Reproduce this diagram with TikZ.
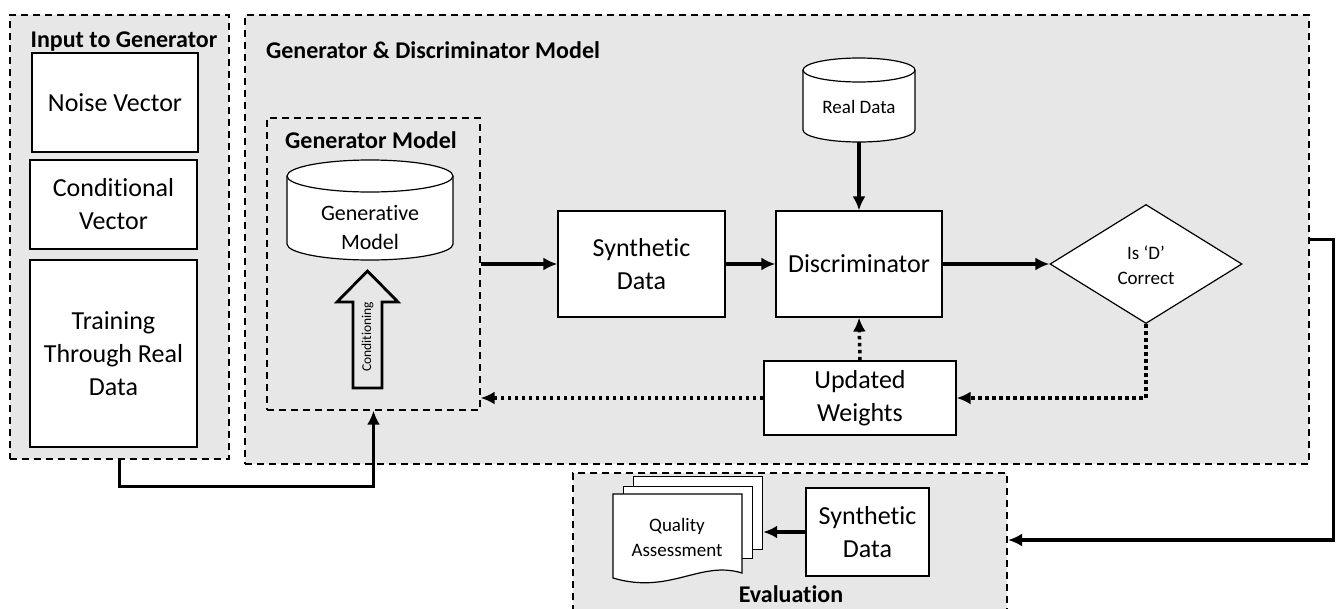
\documentclass[tikz,border=0pt]{standalone}
\usepackage{fontspec}
\setmainfont[Ligatures={NoCommon}]{Carlito}
\usetikzlibrary{shapes.geometric,arrows.meta}
\definecolor{panel}{RGB}{231,231,231}
\begin{document}
\begin{tikzpicture}[x=1pt,y=1pt,
  panelbox/.style={draw, dash pattern=on 7pt off 5pt, line width=1.3pt, fill=panel, inner sep=0pt},
  titletext/.style={font=\fontsize{24}{29}\selectfont\bfseries, anchor=base, inner sep=0pt},
  whitebox/.style={draw, fill=white, line width=1.2pt, align=center, inner sep=0pt, font=\fontsize{26}{33}\selectfont},
  smalltext/.style={align=center, inner sep=0pt, font=\fontsize{19}{25}\selectfont},
  flow/.style={line width=3.2pt, -{Latex[length=14pt,width=13pt]}},
  dotflow/.style={line width=3.5pt, dash pattern=on 3.5pt off 3.5pt, -{Latex[length=14pt,width=13pt]}},
  shapeline/.style={line width=1.2pt}
]
\clip (0,0) rectangle (1337,-608);
\fill[white] (0,0) rectangle (1337,-608);

% panels
\node[panelbox, minimum width=219pt, minimum height=444pt] (inp) at (119.5,-237) {};
\node[panelbox, minimum width=1064pt, minimum height=449pt] (gd) at (777,-239.5) {};
\node[panelbox, minimum width=213pt, minimum height=292pt] (gm) at (373.5,-264) {};
\node[panelbox, minimum width=434pt, minimum height=140pt] (ev) at (790,-543) {};

% titles
\node[titletext] (tinp) at (124,-47) {Input to Generator};
\node[titletext] (tgd) at (433,-58) {Generator \& Discriminator Model};
\node[titletext] (tgm) at (371,-148) {Generator Model};
\node[titletext] (tev) at (791,-602) {Evaluation};

% input boxes
\node[whitebox, minimum width=166pt, minimum height=99pt] (noise) at (115,-102.5) {Noise Vector};
\node[whitebox, minimum width=167pt, minimum height=89pt] (cond) at (113.5,-204.5) {Conditional\\Vector};
\node[whitebox, minimum width=167pt, minimum height=187pt] (train) at (113.5,-353.5) {Training\\Through Real\\Data};

% generative model cylinder
\node[minimum width=166pt, minimum height=100pt, inner sep=0pt] (genc) at (370,-210) {};
\draw[shapeline, fill=white] (287,-176) -- (287,-244) arc[start angle=180,end angle=360,x radius=83,y radius=16]
  -- (453,-176) arc[start angle=0,end angle=180,x radius=83,y radius=16] -- cycle;
\draw[shapeline] (287,-176) arc[start angle=180,end angle=360,x radius=83,y radius=16];
\node[align=center, inner sep=0pt, font=\fontsize{22}{29}\selectfont] (gentext) at (370,-228) {Generative\\Model};

% conditioning arrow
\draw[line width=2.8pt, line join=miter] (353,-388) -- (353,-302) -- (337,-302) -- (367.5,-271) -- (398,-302) -- (382,-302) -- (382,-388) -- cycle;
\node[rotate=90, inner sep=0pt, font=\fontsize{13.5}{16}\selectfont] (condtext) at (367.5,-337) {Conditioning};

% main row
\node[whitebox, minimum width=167pt, minimum height=106pt] (syn) at (641.5,-264) {Synthetic\\Data};
\node[whitebox, minimum width=166pt, minimum height=106pt] (disc) at (859,-264) {Discriminator};
\node[diamond, draw, fill=white, line width=1.2pt, aspect=1.61, minimum width=192pt, minimum height=119pt, inner sep=0pt] (dia) at (1146,-264) {};
\node[smalltext] (diatext) at (1146,-265) {Is ‘D’\\Correct};
\node[whitebox, minimum width=192pt, minimum height=74pt] (uw) at (860,-398) {Updated\\Weights};

% real data cylinder
\node[minimum width=112pt, minimum height=84pt, inner sep=0pt] (real) at (859,-100) {};
\draw[shapeline, fill=white] (803,-70) -- (803,-130) arc[start angle=180,end angle=360,x radius=56,y radius=12]
  -- (915,-70) arc[start angle=0,end angle=180,x radius=56,y radius=12] -- cycle;
\draw[shapeline] (803,-70) arc[start angle=180,end angle=360,x radius=56,y radius=12];
\node[smalltext] (realtext) at (859,-107) {Real Data};

% evaluation
\node[whitebox, minimum width=123pt, minimum height=88pt] (syn2) at (867.5,-532) {Synthetic\\Data};
\node[draw, fill=white, line width=1.2pt, minimum width=129pt, minimum height=73pt, inner sep=0pt, anchor=north west] (qa3) at (633,-476) {};
\node[draw, fill=white, line width=1.2pt, minimum width=129pt, minimum height=72pt, inner sep=0pt, anchor=north west] (qa2) at (623,-486) {};
\draw[shapeline, fill=white] (613,-494) -- (742,-494) -- (742,-573)
  .. controls (700,-560) and (670,-595) .. (613,-578) -- cycle;
\node[smalltext] (qatext) at (677,-537) {Quality\\Assessment};

% connectors
\draw[flow] (gm.east) -- (syn.west);
\draw[flow] (syn.east) -- (disc.west);
\draw[flow] (disc.east) -- (dia.west);
\draw[flow] (real.south) -- (disc.north);
\draw[dotflow] (dia.south) |- (uw.east);
\draw[dotflow] (uw.north) -- (disc.south);
\draw[dotflow] (uw.west) -- (uw.west -| gm.east);
\draw[flow] (inp.south) -- ++(0,-27) -| (gm.south);
\coordinate (evin) at (1008,-540);
\draw[flow] (gd.east) -- ++(24,0) |- (evin);
\draw[flow] (syn2.west) -- (syn2.west -| qa3.east);
\end{tikzpicture}
\end{document}
